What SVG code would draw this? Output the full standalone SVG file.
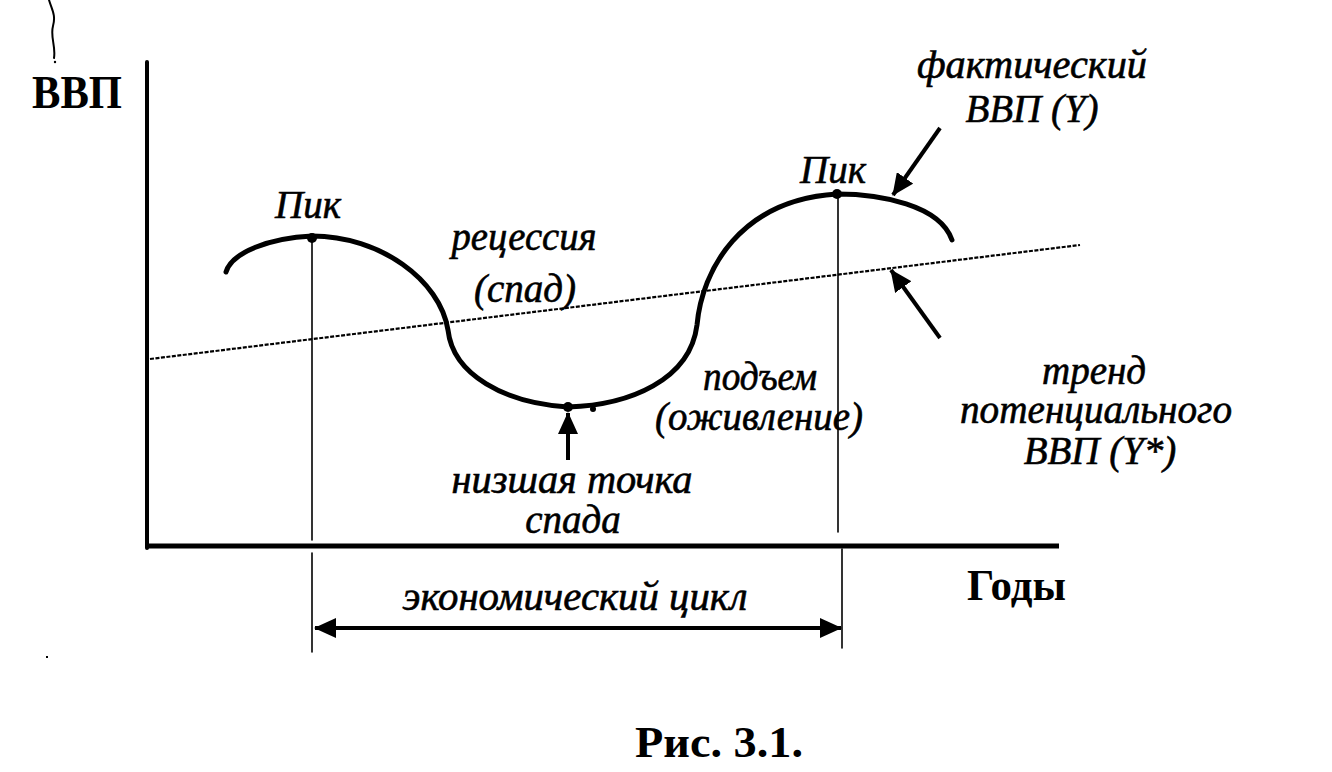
<svg xmlns="http://www.w3.org/2000/svg" width="1332" height="772" viewBox="0 0 1332 772">
<style>
.it{font-family:"Liberation Serif","Times New Roman",serif;font-style:italic;font-size:39px;fill:#000;stroke:#000;stroke-width:0.6;text-anchor:middle}
.bd{font-family:"Liberation Serif","Times New Roman",serif;font-weight:bold;fill:#000}
.ln{fill:none;stroke:#000;stroke-linecap:round}
</style>
<defs>
<marker id="ah" viewBox="0 0 22 20" refX="21" refY="10" markerWidth="22" markerHeight="20" markerUnits="userSpaceOnUse" orient="auto-start-reverse">
<path d="M0,0 L22,10 L0,20 Z" fill="#000"/>
</marker>
</defs>
<rect width="1332" height="772" fill="#fff"/>

<g id="artifacts">
<path class="ln" stroke-width="2" d="M49,0 C52,10 56,15 53,26 C50,37 56,46 54,58"/>
<circle cx="55" cy="62" r="1.2" fill="#000"/>
<rect x="46" y="656" width="2" height="2" fill="#000"/>
</g>

<g id="axes">
<line class="ln" x1="147" y1="62" x2="147" y2="548" stroke-width="4"/>
<line x1="147" y1="546" x2="1059" y2="546" stroke="#000" stroke-width="5"/>
<text class="bd" x="32" y="108" font-size="46" textLength="90" lengthAdjust="spacingAndGlyphs">ВВП</text>
<text class="bd" x="967" y="600" font-size="44" textLength="99" lengthAdjust="spacingAndGlyphs">Годы</text>
</g>

<g id="trend">
<line x1="150" y1="359" x2="1080" y2="245" stroke="#000" stroke-width="2.2" stroke-dasharray="4 1.5"/>
</g>

<g id="gdp-curve">
<path class="ln" stroke-width="5" d="M226,272 C232,252 270,238 312,236 C380,236 440,280 448,330 C453,375 505,403 568,407 C630,405 690,380 697,325 C702,270 740,200 837,194 C880,194 940,205 952,240"/>
</g>

<g id="peak-left">
<circle cx="312" cy="238" r="5" fill="#000"/>
<line class="ln" x1="312" y1="238" x2="312" y2="540" stroke-width="1.6"/>
<text class="it" x="308" y="218">Пик</text>
</g>

<g id="peak-right">
<circle cx="837" cy="194" r="5" fill="#000"/>
<line class="ln" x1="838" y1="194" x2="838" y2="532" stroke-width="1.6"/>
<text class="it" x="833" y="183">Пик</text>
</g>

<g id="trough">
<circle cx="568" cy="407" r="5" fill="#000"/>
<circle cx="593" cy="409" r="3" fill="#000"/>
<text class="it" x="572" y="493" textLength="241" lengthAdjust="spacingAndGlyphs">низшая точка</text>
<text class="it" x="573" y="533">спада</text>
</g>

<g id="recession">
<text class="it" x="524" y="250" textLength="145" lengthAdjust="spacingAndGlyphs">рецессия</text>
<text class="it" x="525" y="302">(спад)</text>
</g>

<g id="recovery">
<text class="it" x="760" y="390" textLength="114" lengthAdjust="spacingAndGlyphs">подъем</text>
<text class="it" x="759" y="430" textLength="208" lengthAdjust="spacingAndGlyphs">(оживление)</text>
</g>

<g id="actual-label">
<text class="it" x="1032" y="78" textLength="230" lengthAdjust="spacingAndGlyphs">фактический</text>
<text class="it" x="1032" y="122">ВВП (Y)</text>
</g>

<g id="trend-label">
<text class="it" x="1094" y="384">тренд</text>
<text class="it" x="1096" y="423" textLength="272" lengthAdjust="spacingAndGlyphs">потенциального</text>
<text class="it" x="1100" y="464">ВВП (Y*)</text>
</g>

<g id="cycle">
<line class="ln" x1="312" y1="553" x2="312" y2="652" stroke-width="1.6"/>
<line class="ln" x1="842" y1="549" x2="842" y2="648" stroke-width="1.6"/>
<text class="it" x="575" y="610" textLength="345" lengthAdjust="spacingAndGlyphs">экономический цикл</text>
</g>

<g id="connectors">
<line x1="940" y1="128" x2="893" y2="195" stroke="#000" stroke-width="4" marker-end="url(#ah)"/>
<line x1="940" y1="338" x2="891" y2="270" stroke="#000" stroke-width="4" marker-end="url(#ah)"/>
<line x1="568" y1="460" x2="568" y2="413" stroke="#000" stroke-width="4" marker-end="url(#ah)"/>
<line x1="315" y1="628" x2="841" y2="628" stroke="#000" stroke-width="4" marker-start="url(#ah)" marker-end="url(#ah)"/>
</g>

<g id="caption">
<text class="bd" x="635" y="757" font-size="44" textLength="168" lengthAdjust="spacingAndGlyphs">Рис. 3.1.</text>
</g>
</svg>
